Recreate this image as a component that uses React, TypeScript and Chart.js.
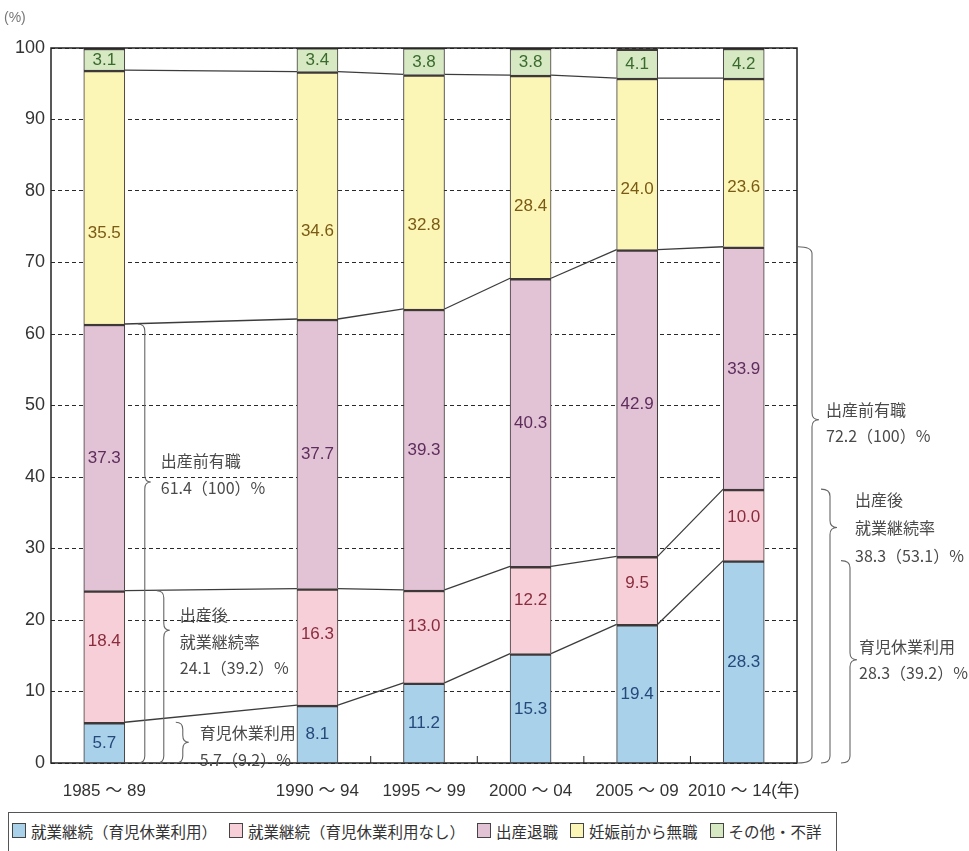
import React, { useEffect, useRef } from 'react';
import { Chart, registerables } from 'chart.js';

Chart.register(...registerables);

// Periods (the empty slot leaves room for the left-hand braces)
const periods = ['1985 ～ 89', '', '1990 ～ 94', '1995 ～ 99', '2000 ～ 04', '2005 ～ 09', '2010 ～ 14(年)'];

// Shares of first-child mothers by employment status (%)
const keptWithLeave = [5.7, null, 8.1, 11.2, 15.3, 19.4, 28.3];
const keptNoLeave = [18.4, null, 16.3, 13.0, 12.2, 9.5, 10.0];
const quitAtBirth = [37.3, null, 37.7, 39.3, 40.3, 42.9, 33.9];
const notEmployedBefore = [35.5, null, 34.6, 32.8, 28.4, 24.0, 23.6];
const otherUnknown = [3.1, null, 3.4, 3.8, 3.8, 4.1, 4.2];

const seriesNames = [
  '就業継続（育児休業利用）',
  '就業継続（育児休業利用なし）',
  '出産退職',
  '妊娠前から無職',
  'その他・不詳',
];

const yTicks = [0, 10, 20, 30, 40, 50, 60, 70, 80, 90, 100];

// Brace annotation texts
const leftNotes = [
  ['出産前有職', '61.4（100）%'],
  ['出産後', '就業継続率', '24.1（39.2）%'],
  ['育児休業利用', '5.7（9.2）%'],
];
const rightNotes = [
  ['出産前有職', '72.2（100）%'],
  ['出産後', '就業継続率', '38.3（53.1）%'],
  ['育児休業利用', '28.3（39.2）%'],
];

const fillColors = ['#a9d1ea', '#f6cfd9', '#e2c3d6', '#fbf6b6', '#d6e9c3'];
const labelColors = ['#24497a', '#8a2c3c', '#5e2d5c', '#7a5a14', '#3b6a2e'];
const labelAnchor = [0.5, 0.62, 0.5, 0.36, 0.5];

const NUM_FONT = "'Liberation Sans', Arial, 'Noto Sans CJK JP', sans-serif";
const JP_FONT = "'Noto Sans CJK JP', 'Liberation Sans', sans-serif";

function drawBrace(
  ctx: CanvasRenderingContext2D,
  x: number,
  yTop: number,
  yBot: number,
  yTip: number,
  hook: number,
  tip: number
) {
  const r = Math.min(7, (yBot - yTop) / 4);
  ctx.beginPath();
  ctx.moveTo(x - hook, yTop);
  ctx.quadraticCurveTo(x, yTop, x, yTop + r);
  ctx.lineTo(x, yTip - r);
  ctx.quadraticCurveTo(x, yTip, x + tip, yTip);
  ctx.quadraticCurveTo(x, yTip, x, yTip + r);
  ctx.lineTo(x, yBot - r);
  ctx.quadraticCurveTo(x, yBot, x - hook, yBot);
  ctx.stroke();
}

const overlayPlugin = {
  id: 'overlay',
  afterDatasetsDraw(chart: any) {
    const ctx: CanvasRenderingContext2D = chart.ctx;
    const { left, right, top, bottom } = chart.chartArea;
    const yScale = chart.scales.y;
    const metas = chart.data.datasets.map((_: any, k: number) => chart.getDatasetMeta(k));
    const idx = periods.map((_, i) => i).filter((i) => keptWithLeave[i] !== null);

    ctx.save();

    // Connectors between the segment tops of neighbouring bars
    ctx.strokeStyle = '#3c3c3c';
    ctx.lineWidth = 1.3;
    for (let d = 0; d < 4; d++) {
      for (let n = 0; n < idx.length - 1; n++) {
        const a = metas[d].data[idx[n]];
        const b = metas[d].data[idx[n + 1]];
        ctx.beginPath();
        ctx.moveTo(a.x + a.width / 2, a.y);
        ctx.lineTo(b.x - b.width / 2, b.y);
        ctx.stroke();
      }
    }

    // Plot frame
    ctx.strokeStyle = '#222';
    ctx.lineWidth = 1.5;
    ctx.strokeRect(left, top, right - left, bottom - top);

    // Small upward ticks between the evenly spaced bars
    ctx.lineWidth = 1;
    for (let n = 1; n < idx.length - 1; n++) {
      const a = metas[0].data[idx[n]];
      const b = metas[0].data[idx[n + 1]];
      const mx = (a.x + b.x) / 2;
      ctx.beginPath();
      ctx.moveTo(mx, bottom);
      ctx.lineTo(mx, bottom - 7);
      ctx.stroke();
    }

    // Value labels inside segments
    ctx.font = `17px ${NUM_FONT}`;
    ctx.textAlign = 'center';
    ctx.textBaseline = 'middle';
    chart.data.datasets.forEach((ds: any, d: number) => {
      ctx.fillStyle = labelColors[d];
      ds.data.forEach((v: number | null, i: number) => {
        if (v === null) return;
        const el = metas[d].data[i];
        const yTopPx = Math.max(el.y, top);
        const yc = el.base + (yTopPx - el.base) * labelAnchor[d];
        ctx.fillText(v.toFixed(1), el.x, yc + 1);
      });
    });

    // Braces and their notes
    const cum = (i: number, n: number) => {
      let s = 0;
      const all = [keptWithLeave, keptNoLeave, quitAtBirth];
      for (let k = 0; k < n; k++) s += all[k][i] as number;
      return s;
    };
    ctx.strokeStyle = '#666';
    ctx.lineWidth = 1.1;
    ctx.fillStyle = '#4a4a4a';
    ctx.font = `16px ${JP_FONT}`;
    ctx.textAlign = 'left';

    const firstBar = metas[0].data[idx[0]];
    const lastIdx = idx[idx.length - 1];
    const barRight = firstBar.x + firstBar.width / 2;

    const leftSpec = [
      { n: 3, dx: 20, frac: 0.36, hook: 7, tx: 16, ty: [-21, 6] },
      { n: 2, dx: 39, frac: 0.23, hook: 7, tx: 16, ty: [-15, 12, 38] },
      { n: 1, dx: 58, frac: 0.49, hook: 7, tx: 17, ty: [-9, 18] },
    ];
    leftSpec.forEach((s, k) => {
      const yT = yScale.getPixelForValue(cum(idx[0], s.n));
      const x = barRight + s.dx;
      const yTip = yT + (bottom - yT) * s.frac;
      drawBrace(ctx, x, yT, bottom, yTip, s.hook, 6);
      leftNotes[k].forEach((line, j) => ctx.fillText(line, x + s.tx, yTip + s.ty[j]));
    });

    const rightSpec = [
      { n: 3, dx: 15, frac: 0.335, hook: 14, tx: 14, ty: [-10, 16] },
      { n: 2, dx: 33, frac: 0.14, hook: 9, tx: 25, ty: [-28, 0, 28] },
      { n: 1, dx: 53, frac: 0.49, hook: 9, tx: 9, ty: [-13, 13] },
    ];
    rightSpec.forEach((s, k) => {
      const yT = yScale.getPixelForValue(cum(lastIdx, s.n));
      const x = right + s.dx;
      const yTip = yT + (bottom - yT) * s.frac;
      drawBrace(ctx, x, yT, bottom, yTip, s.hook, 7);
      rightNotes[k].forEach((line, j) => ctx.fillText(line, x + s.tx, yTip + s.ty[j]));
    });

    // Unit label
    ctx.fillStyle = '#777';
    ctx.font = `14px ${NUM_FONT}`;
    ctx.fillText('(%)', 4, 18);

    ctx.restore();
  },
};

export default function App() {
  const canvasRef = useRef<HTMLCanvasElement>(null);

  useEffect(() => {
    document.body.style.margin = '0';
    const canvas = canvasRef.current;
    if (!canvas) return;
    const series = [keptWithLeave, keptNoLeave, quitAtBirth, notEmployedBefore, otherUnknown];
    const chart = new Chart(canvas, {
      type: 'bar',
      data: {
        labels: periods,
        datasets: series.map((data, k) => ({
          label: seriesNames[k],
          data,
          backgroundColor: fillColors[k],
          borderColor: '#3f3838',
          borderWidth: { top: 2.5, left: 1, right: 1, bottom: 0 },
          borderSkipped: false,
          barThickness: 41,
        })),
      },
      options: {
        responsive: false,
        animation: false,
        layout: { padding: { left: 0, right: 172, top: 48, bottom: 0 } },
        plugins: {
          legend: { display: false },
          tooltip: { enabled: false },
        },
        scales: {
          x: {
            stacked: true,
            grid: { display: false },
            border: { display: false },
            ticks: {
              color: '#333',
              font: { size: 17, family: NUM_FONT },
              padding: 10,
              maxRotation: 0,
              autoSkip: false,
            },
            afterFit: (s: any) => {
              s.height = 42;
            },
          },
          y: {
            stacked: true,
            min: 0,
            max: 100,
            afterBuildTicks: (s: any) => {
              s.ticks = yTicks.map((v) => ({ value: v }));
            },
            grid: { color: '#2a2a2a', lineWidth: 1, drawTicks: false },
            border: { display: false, dash: [4, 3] },
            ticks: {
              color: '#333',
              font: { size: 18, family: NUM_FONT },
              padding: 6,
            },
            afterFit: (s: any) => {
              s.width = 51;
            },
          },
        },
      },
      plugins: [overlayPlugin],
    } as any);
    return () => chart.destroy();
  }, []);

  return (
    <div style={{ position: 'relative', width: 969, height: 851, background: '#fff', overflow: 'hidden' }}>
      <canvas ref={canvasRef} width={969} height={805} style={{ position: 'absolute', left: 0, top: 0 }} />
      <div
        style={{
          position: 'absolute',
          left: 8,
          top: 812,
          width: 829,
          height: 40,
          border: '1px solid #555',
          boxSizing: 'border-box',
          display: 'flex',
          alignItems: 'center',
          paddingLeft: 3,
          paddingBottom: 3,
          fontFamily: JP_FONT,
          fontSize: 15.5,
          color: '#333',
          whiteSpace: 'nowrap',
        }}
      >
        {seriesNames.map((name, k) => (
          <span key={name} style={{ display: 'flex', alignItems: 'center', marginRight: 12 }}>
            <span
              style={{
                display: 'inline-block',
                width: 12,
                height: 13,
                background: fillColors[k],
                border: '1.5px solid #444',
                marginRight: 5,
              }}
            />
            {name}
          </span>
        ))}
      </div>
    </div>
  );
}
